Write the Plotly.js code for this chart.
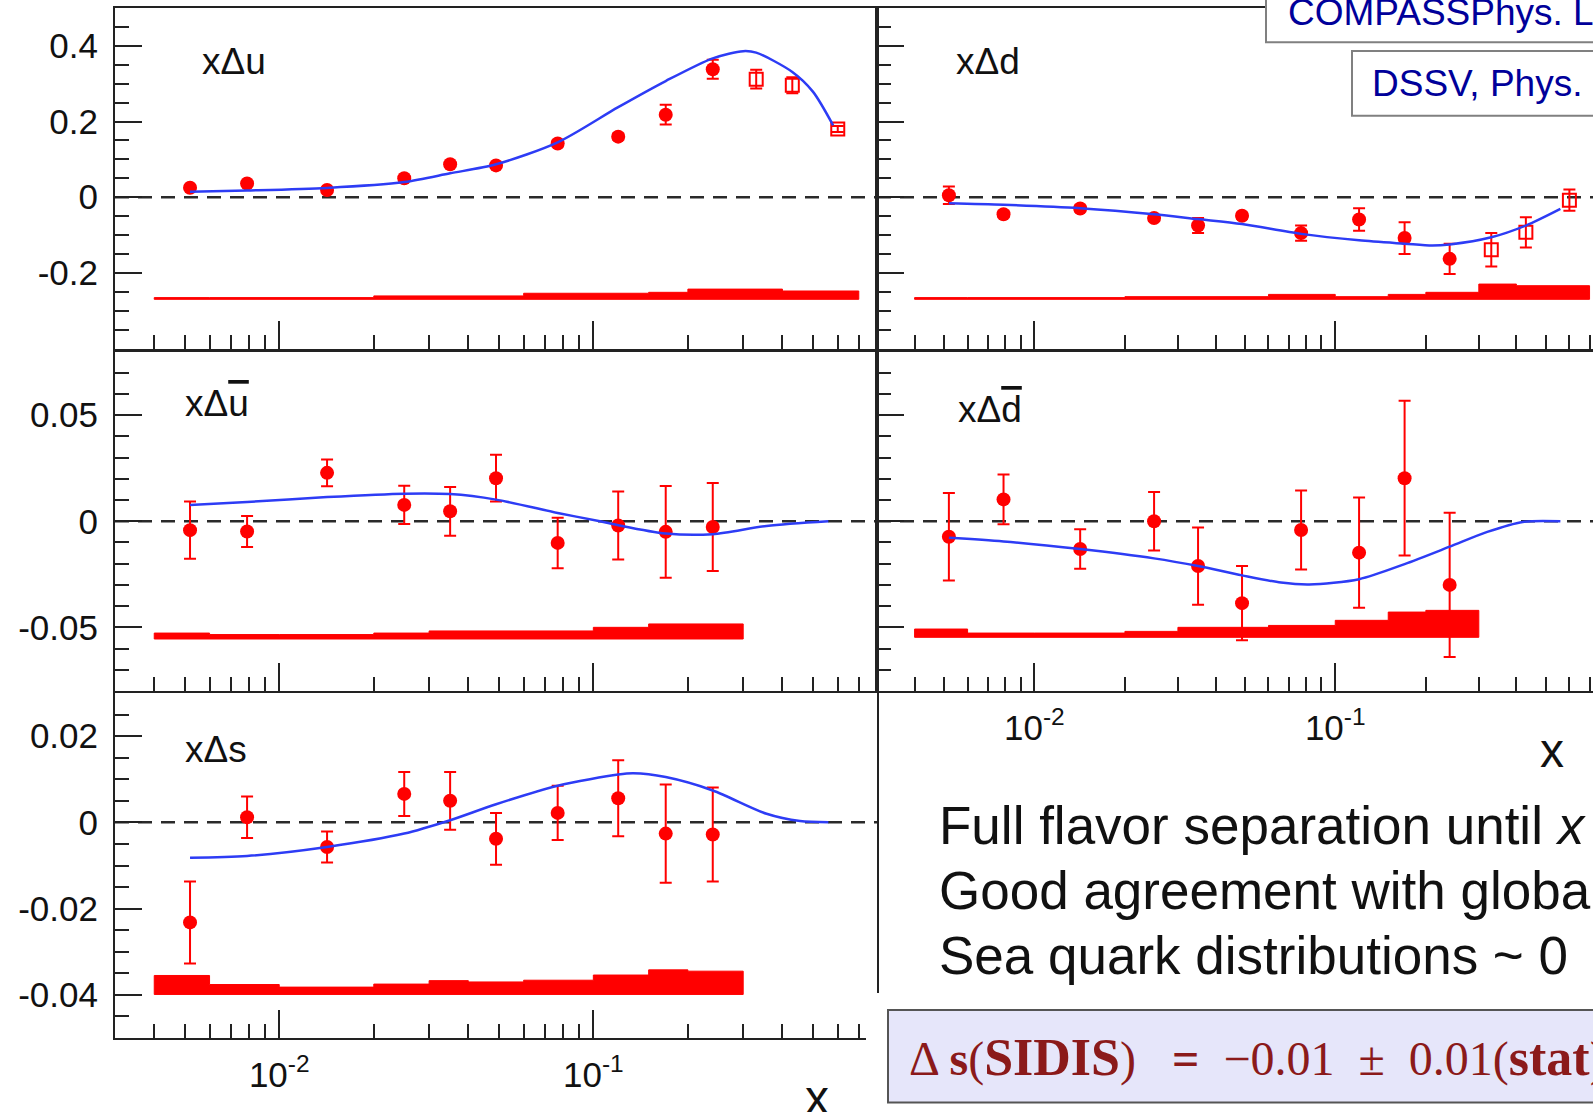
<!DOCTYPE html>
<html>
<head>
<meta charset="utf-8">
<script src="https://cdn.plot.ly/plotly-3.0.1.min.js"></script>
<style>
  html, body { margin: 0; padding: 0; overflow: hidden; background: #fff; width: 1593px; height: 1112px; }
  #plot { width: 1625px; height: 1112px; }
</style>
</head>
<body>
<div id="plot"></div>
<script>
// ---------------- data ----------------
const xBins = [0.0052, 0.0079, 0.0142, 0.025, 0.035, 0.049, 0.077, 0.12, 0.17, 0.24];
const xOpen = [0.33, 0.43, 0.6];

// x Delta u
const uVal = [0.025, 0.036, 0.019, 0.050, 0.087, 0.084, 0.142, 0.160, 0.218, 0.338];
const uErr = [0.006, 0.006, 0.006, 0.006, 0.006, 0.006, 0.008, 0.008, 0.026, 0.025];
const uOpenVal = [0.312, 0.296, 0.180];
const uOpenErr = [0.025, 0.021, 0.008];
const uCurveX = [0.0052, 0.0079, 0.0142, 0.025, 0.035, 0.049, 0.077, 0.12, 0.17, 0.24, 0.3, 0.33, 0.43, 0.5, 0.58];
const uCurveY = [0.014, 0.0175, 0.0245, 0.040, 0.063, 0.087, 0.145, 0.238, 0.307, 0.367, 0.386, 0.382, 0.331, 0.279, 0.19];

// x Delta d
const dVal = [0.005, -0.045, -0.030, -0.055, -0.075, -0.049, -0.095, -0.059, -0.108, -0.163];
const dErr = [0.023, 0.008, 0.008, 0.008, 0.020, 0.008, 0.020, 0.030, 0.042, 0.040];
const dOpenVal = [-0.139, -0.093, -0.008];
const dOpenErr = [0.044, 0.040, 0.028];
const dCurveX = [0.0052, 0.0079, 0.0142, 0.025, 0.035, 0.049, 0.077, 0.12, 0.17, 0.21, 0.24, 0.33, 0.43, 0.56];
const dCurveY = [-0.016, -0.020, -0.029, -0.045, -0.058, -0.071, -0.097, -0.114, -0.123, -0.128, -0.125, -0.106, -0.075, -0.031];

// x Delta ubar
const ubarVal = [-0.0042, -0.0048, 0.0228, 0.0077, 0.0047, 0.0203, -0.0102, -0.0020, -0.0050, -0.0027];
const ubarErr = [0.0135, 0.0073, 0.0063, 0.0090, 0.0115, 0.0110, 0.0119, 0.0160, 0.0216, 0.0207];
const ubarCurveX = [0.0052, 0.0079, 0.0142, 0.025, 0.035, 0.049, 0.077, 0.105, 0.12, 0.17, 0.24, 0.356, 0.56];
const ubarCurveY = [0.0077, 0.0091, 0.0114, 0.0130, 0.0128, 0.0102, 0.0039, 0.0, -0.0019, -0.0058, -0.0061, -0.0022, 0.0];

// x Delta dbar
const dbarVal = [-0.0073, 0.0103, -0.0131, 0.0, -0.0211, -0.0386, -0.0041, -0.0148, 0.0203, -0.0300];
const dbarErr = [0.0206, 0.0117, 0.0093, 0.0138, 0.0182, 0.0175, 0.0186, 0.0260, 0.0365, 0.0340];
const dbarCurveX = [0.0052, 0.0079, 0.0142, 0.025, 0.035, 0.049, 0.066, 0.082, 0.12, 0.17, 0.24, 0.32, 0.42, 0.56];
const dbarCurveY = [-0.0078, -0.0095, -0.0131, -0.0175, -0.0211, -0.0255, -0.0289, -0.0298, -0.0273, -0.0202, -0.0120, -0.0050, -0.0003, 0.0];

// x Delta s
const sVal = [-0.0232, 0.0012, -0.0057, 0.0066, 0.0050, -0.0038, 0.0022, 0.0056, -0.0026, -0.0028];
const sErr = [0.0095, 0.0048, 0.0036, 0.0051, 0.0067, 0.0060, 0.0063, 0.0088, 0.0114, 0.0109];
const sCurveX = [0.0052, 0.0079, 0.0142, 0.025, 0.035, 0.049, 0.077, 0.12, 0.134, 0.17, 0.24, 0.356, 0.455, 0.56];
const sCurveY = [-0.0082, -0.0078, -0.0057, -0.0026, 0.0005, 0.0042, 0.0085, 0.0111, 0.0114, 0.0105, 0.0074, 0.0020, 0.0003, 0.0];

// systematic bands (bin edges, band top per bin, band base)
const edgesValence = [0.004, 0.006, 0.01, 0.02, 0.03, 0.04, 0.06, 0.1, 0.15, 0.2, 0.3, 0.4, 0.7];
const edgesSea = [0.004, 0.006, 0.01, 0.02, 0.03, 0.04, 0.06, 0.1, 0.15, 0.2, 0.3];
const uBandTop = [-0.2655, -0.2655, -0.2655, -0.261, -0.261, -0.261, -0.254, -0.254, -0.2515, -0.243, -0.243, -0.248];
const uBandBase = -0.270;
const dBandTop = [-0.2655, -0.2655, -0.2655, -0.263, -0.263, -0.263, -0.257, -0.263, -0.257, -0.2515, -0.2297, -0.234];
const dBandBase = -0.270;
const ubarBandTop = [-0.0527, -0.0534, -0.0534, -0.0527, -0.0517, -0.0517, -0.0517, -0.0500, -0.0484, -0.0484];
const ubarBandBase = -0.0555;
const dbarBandTop = [-0.0508, -0.0527, -0.0527, -0.0519, -0.0500, -0.0500, -0.0491, -0.0467, -0.0428, -0.0420];
const dbarBandBase = -0.0547;
const sBandTop = [-0.0355, -0.0376, -0.0382, -0.0375, -0.0367, -0.0370, -0.0366, -0.0354, -0.0342, -0.0345];
const sBandBase = -0.0399;

// tick labels
const xTickVals = [0.01, 0.1];
const xTickText = ['10<sup>-2</sup>', '10<sup>-1</sup>'];
const yTopVals = [-0.2, 0, 0.2, 0.4];
const yTopText = ['-0.2', '0', '0.2', '0.4'];
const yMidVals = [-0.05, 0, 0.05];
const yMidText = ['-0.05', '0', '0.05'];
const yBotVals = [-0.04, -0.02, 0, 0.02];
const yBotText = ['-0.04', '-0.02', '0', '0.02'];

const OV = s => '<span style="text-decoration:overline">' + s + '</span>';
const panelLabels = ['x\u0394u', 'x\u0394d', 'x\u0394' + OV('u'), 'x\u0394' + OV('d'), 'x\u0394s'];

// ---------------- figure ----------------
const W = 1625, H = 1112;
const PX = p => p / W;
const PY = p => 1 - p / H;
const dom = (top, bot) => [1 - bot / H, 1 - top / H];

const RED = '#ff0000';
const BLUE = 'rgb(45,60,245)';
const INK = '#222';
const FONT = 'Liberation Sans, Arial, sans-serif';

function bandTrace(edges, tops, base, xa, ya) {
  const xs = [edges[0]], ys = [base];
  for (let i = 0; i < tops.length; i++) {
    xs.push(edges[i], edges[i + 1]);
    ys.push(tops[i], tops[i]);
  }
  xs.push(edges[edges.length - 1]); ys.push(base);
  xs.push(edges[0]); ys.push(base);
  return {x: xs, y: ys, xaxis: xa, yaxis: ya, type: 'scatter', mode: 'lines',
          fill: 'toself', fillcolor: RED, line: {color: RED, width: 1}, hoverinfo: 'skip'};
}
function pointsTrace(xv, yv, ev, xa, ya, open) {
  return {x: xv, y: yv, xaxis: xa, yaxis: ya, type: 'scatter', mode: 'markers',
          marker: open ? {symbol: 'square-open', size: 13, color: RED, line: {color: RED, width: 2}}
                       : {symbol: 'circle', size: 14, color: RED},
          error_y: {type: 'data', array: ev, visible: true, color: RED, thickness: 2, width: 6}};
}
function curveTrace(xv, yv, xa, ya) {
  return {x: xv, y: yv, xaxis: xa, yaxis: ya, type: 'scatter', mode: 'lines',
          line: {color: BLUE, width: 2.5, shape: 'spline', smoothing: 0.8}};
}

const traces = [
  bandTrace(edgesValence, uBandTop, uBandBase, 'x', 'y'),
  pointsTrace(xBins, uVal, uErr, 'x', 'y', false),
  pointsTrace(xOpen, uOpenVal, uOpenErr, 'x', 'y', true),
  curveTrace(uCurveX, uCurveY, 'x', 'y'),

  bandTrace(edgesValence, dBandTop, dBandBase, 'x2', 'y2'),
  pointsTrace(xBins, dVal, dErr, 'x2', 'y2', false),
  pointsTrace(xOpen, dOpenVal, dOpenErr, 'x2', 'y2', true),
  curveTrace(dCurveX, dCurveY, 'x2', 'y2'),

  bandTrace(edgesSea, ubarBandTop, ubarBandBase, 'x3', 'y3'),
  pointsTrace(xBins, ubarVal, ubarErr, 'x3', 'y3', false),
  curveTrace(ubarCurveX, ubarCurveY, 'x3', 'y3'),

  bandTrace(edgesSea, dbarBandTop, dbarBandBase, 'x4', 'y4'),
  pointsTrace(xBins, dbarVal, dbarErr, 'x4', 'y4', false),
  curveTrace(dbarCurveX, dbarCurveY, 'x4', 'y4'),

  bandTrace(edgesSea, sBandTop, sBandBase, 'x5', 'y5'),
  pointsTrace(xBins, sVal, sErr, 'x5', 'y5', false),
  curveTrace(sCurveX, sCurveY, 'x5', 'y5')
];

const minorX = [];
[0.001, 0.01, 0.1].forEach(d => { for (let k = 2; k <= 9; k++) minorX.push(k * d); });

function xAxis(domain, anchor, labels) {
  return {
    type: 'log', domain: domain, anchor: anchor,
    range: [Math.log10(0.003), Math.log10(0.8)],
    showline: true, mirror: true, linecolor: INK, linewidth: 2,
    showgrid: false, zeroline: false,
    ticks: 'inside', ticklen: 28, tickwidth: 2, tickcolor: INK,
    tickmode: 'array', tickvals: xTickVals, ticktext: xTickText,
    showticklabels: labels, ticklabelstandoff: 5,
    tickfont: {family: FONT, size: 35, color: '#111'},
    minor: {ticks: 'inside', ticklen: 14, tickwidth: 2, tickcolor: INK,
            tickmode: 'array', tickvals: minorX, showgrid: false}
  };
}
function yAxis(domain, anchor, range, vals, text, minorStep, labels) {
  return {
    domain: domain, anchor: anchor, range: range,
    showline: true, mirror: true, linecolor: INK, linewidth: 2,
    showgrid: false, zeroline: false,
    ticks: 'inside', ticklen: 27, tickwidth: 2, tickcolor: INK,
    tickmode: 'array', tickvals: vals, ticktext: text,
    showticklabels: labels, ticklabelstandoff: 8,
    tickfont: {family: FONT, size: 35, color: '#111'},
    minor: {ticks: 'inside', ticklen: 14, tickwidth: 2, tickcolor: INK,
            tickmode: 'linear', tick0: 0, dtick: minorStep, showgrid: false}
  };
}

const colL = [PX(115), PX(877)];
const colR = [PX(877), PX(1607)];
const rowT = dom(8, 348.5);
const rowM = dom(351.5, 691);
const rowB = dom(693, 1038);

const zeroLine = (xr, yr) => ({type: 'line', xref: xr + ' domain', x0: 0, x1: 1, yref: yr, y0: 0, y1: 0,
  layer: 'below', line: {color: '#2a2a2a', width: 2.5, dash: '14px,9px'}});

const shapes = [
  zeroLine('x', 'y'), zeroLine('x2', 'y2'), zeroLine('x3', 'y3'), zeroLine('x4', 'y4'), zeroLine('x5', 'y5'),
  // white cover under the text area (bottom-right corner)
  {type: 'rect', xref: 'paper', yref: 'paper', x0: PX(866), x1: PX(1700), y0: PY(1200), y1: PY(993),
   fillcolor: '#ffffff', line: {width: 0}, layer: 'above'},
  // formula box
  {type: 'rect', xref: 'paper', yref: 'paper', x0: PX(888), x1: PX(1700), y0: PY(1102.5), y1: PY(1010),
   fillcolor: '#e6e6fa', line: {color: '#555', width: 2}, layer: 'above'},
  // reference boxes at top right
  {type: 'rect', xref: 'paper', yref: 'paper', x0: PX(1266), x1: PX(1700), y0: PY(42.3), y1: PY(-20),
   fillcolor: '#ffffff', line: {color: '#808080', width: 2}, layer: 'above'},
  {type: 'rect', xref: 'paper', yref: 'paper', x0: PX(1352), x1: PX(1700), y0: PY(115.7), y1: PY(51),
   fillcolor: '#ffffff', line: {color: '#808080', width: 2}, layer: 'above'}
];

function label(text, xp, yp, size, opts) {
  return Object.assign({text: text, xref: 'paper', yref: 'paper', x: PX(xp), y: PY(yp),
    xanchor: 'left', yanchor: 'middle', showarrow: false,
    font: {family: FONT, size: size, color: '#111'}}, opts || {});
}

const DR = '#8b1a1a';
const NB = '\u00A0';
const BIG = t => '<span style="font-size:52px"><b>' + t + '</b></span>';
const formula = '<span style="color:' + DR + '">\u0394\u2009<b>s</b>(</span>' + BIG('SIDIS') +
  '<span style="color:' + DR + '">)' + NB + NB + NB + '<b>=</b>' + NB + NB + '\u22120.01' + NB + NB + '\u00B1' + NB +
  NB + '0.01(' + BIG('stat') + ')' + NB + NB + '\u00B1' + NB + NB + '0.02(' + BIG('syst') + ')</span>';

const annotations = [
  label(panelLabels[0], 200, 62, 37),
  label(panelLabels[1], 954, 62, 37),
  label(panelLabels[2], 183, 404, 37),
  label(panelLabels[3], 956, 410, 37),
  label(panelLabels[4], 183, 749, 37),
  label('x', 817, 1097, 48, {xanchor: 'center'}),
  label('x', 1552, 750, 48, {xanchor: 'center'}),
  label('Full flavor separation until <i>x</i>', 937, 825, 53),
  label('Good agreement with global', 937, 890, 53),
  label('Sea quark distributions ~ 0', 937, 955, 53),
  label(formula, 907, 1057, 48, {font: {family: 'Liberation Serif, Times New Roman, serif', size: 48, color: DR}}),
  label('COMPASSPhys. Lett. B 693 (2010) 227', 1286, 12, 37, {font: {family: FONT, size: 37, color: '#00009a'}}),
  label('DSSV, Phys. Rev. Lett. 101 (2008) 072001', 1370, 84, 37, {font: {family: FONT, size: 37, color: '#00009a'}})
];

const layout = {
  width: W, height: H,
  margin: {l: 0, r: 0, t: 0, b: 0},
  paper_bgcolor: '#ffffff', plot_bgcolor: '#ffffff',
  showlegend: false,
  xaxis: xAxis(colL, 'y', false),
  yaxis: yAxis(rowT, 'x', [-0.4, 0.5], yTopVals, yTopText, 0.05, true),
  xaxis2: xAxis(colR, 'y2', false),
  yaxis2: yAxis(rowT, 'x2', [-0.4, 0.5], yTopVals, yTopText, 0.05, false),
  xaxis3: xAxis(colL, 'y3', false),
  yaxis3: yAxis(rowM, 'x3', [-0.08, 0.08], yMidVals, yMidText, 0.01, true),
  xaxis4: xAxis(colR, 'y4', true),
  yaxis4: yAxis(rowM, 'x4', [-0.08, 0.08], yMidVals, yMidText, 0.01, false),
  xaxis5: xAxis(colL, 'y5', true),
  yaxis5: yAxis(rowB, 'x5', [-0.05, 0.03], yBotVals, yBotText, 0.005, true),
  shapes: shapes,
  annotations: annotations
};

Plotly.newPlot('plot', traces, layout, {displayModeBar: false, staticPlot: true});
</script>
</body>
</html>
